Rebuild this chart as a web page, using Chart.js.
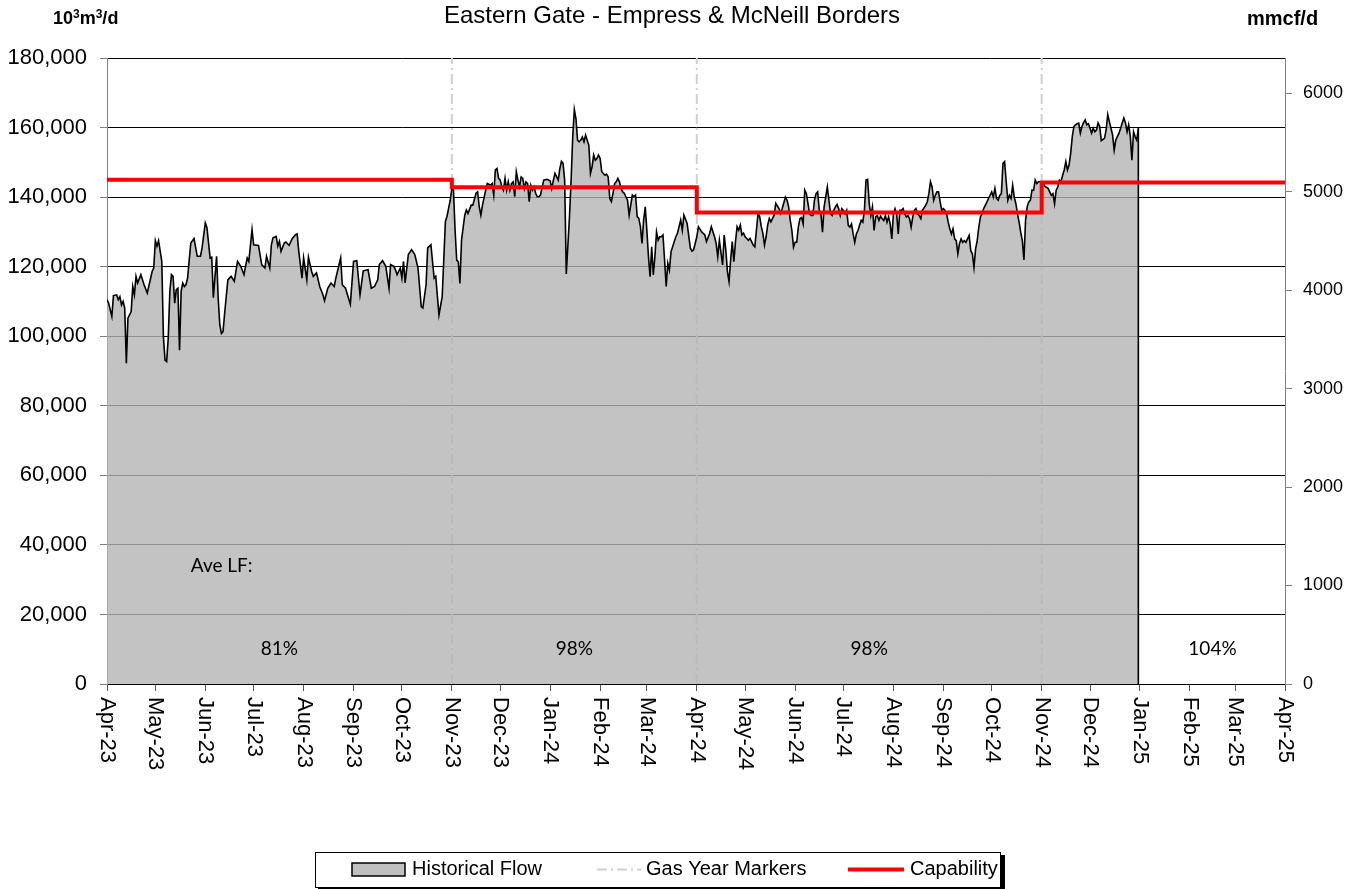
<!DOCTYPE html>
<html>
<head>
<meta charset="utf-8">
<title>Eastern Gate - Empress &amp; McNeill Borders</title>
<script src="https://cdn.jsdelivr.net/npm/chart.js@4.4.1/dist/chart.umd.min.js"></script>
<style>
    html, body { margin: 0; padding: 0; background: #fff; }
    #wrap { position: relative; width: 1361px; height: 889px; }
</style>
</head>
<body>
<div id="wrap"><canvas id="flowChart"></canvas></div>
<script>
const chartTitle = 'Eastern Gate - Empress & McNeill Borders';
const rightUnit = 'mmcf/d';

const monthLabels = ['Apr-23', 'May-23', 'Jun-23', 'Jul-23', 'Aug-23', 'Sep-23', 'Oct-23', 'Nov-23', 'Dec-23',
    'Jan-24', 'Feb-24', 'Mar-24', 'Apr-24', 'May-24', 'Jun-24', 'Jul-24', 'Aug-24', 'Sep-24', 'Oct-24',
    'Nov-24', 'Dec-24', 'Jan-25', 'Feb-25', 'Mar-25', 'Apr-25'];
const leftTicks = [0, 20000, 40000, 60000, 80000, 100000, 120000, 140000, 160000, 180000];
const rightTicks = [0, 1000, 2000, 3000, 4000, 5000, 6000];
const M3_PER_MMCF = 28.3168; // 10^3 m3 per mmcf

// daily flow, x = days since 1 Apr 2023, values in 10^3 m3/d
const flowDays = [
    0, 1, 3, 4, 6, 7, 8, 9, 10, 11, 12, 13, 15, 16, 17, 18, 19, 21, 23, 25,
    28, 29, 30, 31, 32, 34, 35, 36, 37, 38, 39, 40, 41, 42, 43, 44, 45, 46, 47, 48,
    49, 50, 52, 54, 56, 58, 59, 61, 62, 64, 65, 66, 68, 69, 70, 71, 72, 73, 75, 77,
    79, 81, 83, 85, 87, 88, 90, 91, 94, 96, 98, 99, 101, 102, 103, 105, 106, 107, 108, 110,
    111, 113, 115, 117, 118, 119, 121, 122, 124, 125, 127, 128, 130, 132, 134, 135, 137, 139, 141, 142,
    145, 146, 148, 151, 153, 155, 157, 159, 162, 164, 166, 168, 169, 171, 173, 175, 176, 178, 179, 180,
    182, 183, 184, 185, 187, 189, 191, 193, 195, 196, 198, 199, 201, 203, 204, 206, 208, 210, 211, 213,
    214, 215, 216, 217, 218, 219, 220, 222, 223, 224, 226, 227, 229, 230, 231, 232, 233, 235, 236, 238,
    239, 240, 241, 242, 243, 244, 245, 246, 247, 248, 249, 250, 251, 252, 253, 254, 255, 256, 257, 258,
    259, 260, 261, 262, 263, 264, 265, 266, 267, 268, 269, 271, 273, 275, 276, 277, 278, 280, 281, 282,
    283, 284, 285, 287, 288, 289, 290, 291, 292, 293, 294, 295, 296, 297, 299, 300, 301, 302, 303, 304,
    305, 306, 307, 308, 309, 310, 311, 312, 313, 314, 315, 316, 317, 318, 319, 320, 321, 322, 323, 324,
    326, 327, 328, 329, 330, 331, 332, 333, 334, 335, 336, 337, 338, 339, 340, 341, 342, 343, 344, 345,
    346, 347, 348, 349, 350, 351, 352, 353, 354, 355, 356, 357, 358, 360, 362, 363, 364, 366, 367, 369,
    371, 372, 374, 375, 377, 378, 379, 380, 382, 383, 384, 385, 386, 387, 388, 389, 390, 391, 392, 393,
    394, 395, 396, 397, 398, 399, 400, 401, 402, 403, 404, 405, 406, 407, 408, 409, 410, 411, 412, 413,
    414, 415, 417, 418, 419, 421, 422, 423, 424, 425, 426, 427, 428, 429, 430, 431, 432, 433, 434, 435,
    436, 437, 438, 439, 440, 441, 442, 443, 444, 445, 447, 448, 449, 450, 451, 452, 453, 454, 455, 456,
    457, 458, 459, 460, 461, 462, 463, 464, 465, 466, 467, 468, 469, 470, 471, 472, 473, 474, 475, 476,
    477, 478, 479, 480, 481, 482, 483, 484, 485, 486, 487, 488, 489, 490, 491, 492, 493, 494, 495, 496,
    497, 498, 499, 500, 501, 502, 503, 504, 505, 506, 508, 509, 510, 511, 512, 513, 514, 515, 516, 517,
    518, 519, 520, 521, 522, 523, 524, 525, 526, 527, 528, 529, 530, 531, 532, 533, 534, 535, 536, 537,
    538, 539, 540, 541, 542, 543, 544, 545, 546, 547, 549, 550, 551, 552, 553, 554, 555, 556, 557, 558,
    559, 560, 561, 562, 563, 564, 565, 566, 567, 568, 569, 570, 571, 572, 573, 574, 575, 576, 577, 578,
    579, 580, 581, 582, 584, 585, 586, 587, 588, 589, 590, 591, 592, 593, 594, 595, 596, 597, 598, 599,
    600, 601, 602, 603, 604, 605, 606, 607, 608, 609, 610, 611, 612, 613, 614, 615, 616, 617, 618, 619,
    620, 621, 622, 623, 624, 625, 626, 628, 629, 630, 631, 632, 633, 634, 635, 636, 637, 638, 639, 640
];
const flowValues = [
    110500, 109500, 105700, 111700, 111900, 110500, 111400, 109000, 110000, 108100, 92200, 105200, 107100, 114300, 111900, 117200, 115300, 117700, 114800, 112400,
    118600, 119600, 127500, 125900, 127500, 121500, 99900, 93100, 92700, 99400, 112900, 117700, 117200, 109500, 113400, 113800, 96000, 112900, 115300, 114300,
    114800, 116700, 126800, 128100, 123000, 123000, 125400, 132600, 131300, 122500, 122700, 111100, 123000, 110900, 103300, 100800, 101300, 106600, 116200, 117200,
    115800, 121500, 120100, 117700, 122500, 121500, 130700, 126300, 126100, 120600, 119600, 123000, 119600, 126300, 128300, 128700, 125900, 127300, 124400, 126800,
    127100, 126100, 128100, 129200, 129400, 124400, 116700, 122500, 116200, 122700, 118600, 117200, 118200, 114300, 111900, 110200, 113800, 115300, 114300, 116700,
    122500, 114800, 113800, 109200, 121500, 121700, 111900, 118800, 119100, 113800, 114300, 116200, 120600, 121700, 120100, 113800, 120600, 120100, 119100, 117700,
    119600, 116700, 121500, 115300, 123500, 124900, 123500, 119600, 108500, 108100, 114800, 125400, 126300, 116700, 117200, 106100, 111400, 133000, 134500, 139100,
    142500, 142000, 130500, 121900, 121400, 115200, 127600, 134800, 136300, 135300, 137700, 137700, 141100, 141500, 137200, 134800, 137700, 142000, 143900, 143400,
    143900, 140600, 147800, 148200, 145400, 144900, 143000, 142000, 145400, 142000, 144400, 142000, 143900, 144400, 140100, 147300, 144900, 143000, 145800, 145400,
    142500, 144400, 143900, 138700, 143400, 142000, 143000, 141100, 140100, 140100, 140600, 144900, 145100, 144700, 142500, 144900, 146800, 144900, 148200, 150300,
    149700, 144900, 117900, 134400, 144900, 157300, 165200, 162600, 156400, 155900, 156400, 157300, 155900, 157800, 154900, 146800, 148700, 152100, 150600, 151100,
    152100, 151100, 147300, 146800, 146300, 146600, 145800, 139600, 138700, 141100, 143900, 144400, 145400, 144400, 142500, 141500, 141100, 140100, 139100, 134800,
    140600, 140100, 140600, 134400, 133900, 131500, 126700, 133400, 137200, 130500, 122900, 117100, 125700, 117600, 122900, 130000, 127600, 128600, 128600, 129100,
    121900, 114300, 121000, 119000, 124300, 125700, 127200, 128600, 129600, 131500, 133400, 130500, 134800, 132400, 125300, 124500, 124800, 128600, 131500, 130000,
    129100, 127200, 129600, 131500, 128600, 126700, 122900, 127600, 120500, 129100, 124800, 118600, 115700, 121900, 127200, 121400, 127200, 131500, 130500, 132000,
    129100, 129600, 128600, 128100, 127600, 128100, 127200, 126200, 125700, 130500, 135300, 134400, 131500, 129600, 126200, 128600, 132000, 133900, 132900, 133900,
    134800, 138200, 136700, 135300, 136700, 140000, 139100, 137200, 133300, 130400, 125600, 127000, 127000, 131400, 133800, 134100, 132300, 142000, 141000, 138100,
    135200, 134700, 134700, 139100, 141000, 141500, 136200, 135200, 129900, 137200, 142900, 139100, 135200, 134700, 136200, 137200, 137900, 136700, 134700, 136700,
    136200, 135200, 136200, 131900, 131400, 132300, 129400, 127000, 129400, 130400, 131900, 133300, 132800, 136200, 144900, 145100, 138100, 134700, 137200, 130400,
    134300, 134700, 133300, 134500, 133800, 133300, 134700, 132800, 134300, 132300, 128000, 135200, 136700, 135200, 129400, 136200, 136200, 136700, 135200, 134300,
    134700, 133800, 131400, 134300, 136200, 136700, 135200, 134700, 133800, 136200, 137600, 138600, 141000, 144400, 142900, 139100, 140500, 141500, 141500, 138600,
    136200, 136700, 136200, 135200, 132800, 130900, 129400, 130900, 128000, 127500, 123700, 126600, 128000, 127000, 127500, 127000, 128000, 129000, 124600, 123700,
    119800, 125100, 127500, 131400, 134300, 135200, 136700, 137600, 138600, 139600, 141500, 140000, 142500, 139600, 139100, 140500, 141000, 149700, 150200, 144400,
    139100, 140500, 139600, 143400, 140000, 138100, 135200, 132800, 129900, 127500, 121900, 133300, 137200, 138600, 139100, 142000, 142000, 144900, 143900, 144400,
    144400, 144400, 143900, 143100, 142500, 141500, 140500, 141000, 138100, 142000, 142900, 144900, 144400, 146300, 147800, 150200, 147800, 149200, 152600, 157400,
    160300, 160800, 161100, 161300, 158400, 160300, 161400, 162200, 160800, 161100, 159800, 158400, 159800, 158800, 159300, 161300, 160300, 156200, 156600, 156900,
    159300, 163700, 161700, 159800, 157900, 153500, 156400, 158400, 159800, 161300, 162700, 161300, 158800, 160800, 157400, 150600, 158800, 157400, 156400, 159800
];

const capabilityDates = ['2023-04-01', '2023-11-01', '2024-04-01', '2024-11-01', '2025-04-01'];
const capabilityValues = [145000, 142800, 135600, 144200, 144200];

const gasYearDates = ['2023-11-01', '2024-04-01', '2024-11-01'];

const lfLabels = ['81%', '98%', '98%', '104%'];
const lfFrom = ['2023-04-01', '2023-11-01', '2024-04-01', '2025-01-01'];
const lfTo = ['2023-11-01', '2024-04-01', '2024-11-01', '2025-04-01'];

const START = Date.UTC(2023, 3, 1);
const MONTHS = ['Jan', 'Feb', 'Mar', 'Apr', 'May', 'Jun', 'Jul', 'Aug', 'Sep', 'Oct', 'Nov', 'Dec'];
const dayOfDate = iso => Math.round((Date.parse(iso) - START) / 86400000);
const dayOfMonthLabel = lbl => {
    const [m, y] = lbl.split('-');
    return Math.round((Date.UTC(2000 + Number(y), MONTHS.indexOf(m), 1) - START) / 86400000);
};

const monthDays = monthLabels.map(dayOfMonthLabel);
const axisEnd = monthDays[monthDays.length - 1];
const leftMax = leftTicks[leftTicks.length - 1];

const flowPoints = flowDays.map((d, i) => ({ x: d, y: flowValues[i] }));
const lastDay = flowDays[flowDays.length - 1];
const endDrop = [{ x: lastDay, y: flowValues[flowValues.length - 1] }, { x: lastDay, y: 0 }];
const capPoints = capabilityDates.map((d, i) => ({ x: dayOfDate(d), y: capabilityValues[i] }));
const markerPoints = [];
gasYearDates.forEach(d => {
    const x = dayOfDate(d);
    markerPoints.push({ x, y: 0 }, { x, y: leftMax }, { x, y: null });
});

const FONT = '"Liberation Sans", Arial, sans-serif';
Chart.defaults.font.family = FONT;

// draws text runs, small raised pieces for the superscripts
function drawUnit(ctx, parts, x, y) {
    parts.forEach(([txt, sup]) => {
        ctx.font = (sup ? 'bold 12px ' : 'bold 18px ') + FONT;
        ctx.fillText(txt, x, sup ? y - 6 : y);
        x += ctx.measureText(txt).width;
    });
}

const drawExtras = {
    id: 'drawExtras',
    afterDraw(chart) {
        const { ctx, chartArea, scales } = chart;
        const x = scales.x, y = scales.y;
        ctx.save();
        ctx.fillStyle = '#000';

        // title and units
        ctx.textBaseline = 'alphabetic';
        ctx.textAlign = 'center';
        ctx.font = '24px ' + FONT;
        ctx.fillText(chartTitle, 672, 23);
        ctx.textAlign = 'left';
        drawUnit(ctx, [['10', false], ['3', true], ['m', false], ['3', true], ['/d', false]], 53, 24);
        ctx.font = 'bold 20px ' + FONT;
        ctx.fillText(rightUnit, 1247, 25);

        // month labels, read top to bottom
        ctx.font = '22px ' + FONT;
        ctx.textBaseline = 'middle';
        x.ticks.forEach((t, i) => {
            ctx.save();
            ctx.translate(x.getPixelForValue(t.value), chartArea.bottom + 13);
            ctx.rotate(Math.PI / 2);
            ctx.fillText(monthLabels[i], 0, 0);
            ctx.restore();
        });

        // load factor notes
        ctx.font = '19px Lato, "Noto Sans", sans-serif';
        ctx.textAlign = 'left';
        ctx.fillText('Ave LF:', x.getPixelForValue(dayOfDate('2023-05-23')), y.getPixelForValue(34000));
        ctx.textAlign = 'center';
        lfLabels.forEach((lbl, i) => {
            const mid = (dayOfDate(lfFrom[i]) + dayOfDate(lfTo[i])) / 2;
            ctx.fillText(lbl, x.getPixelForValue(mid), y.getPixelForValue(10000));
        });

        // legend box
        const ds = chart.data.datasets;
        ctx.fillStyle = '#000';
        ctx.fillRect(1001, 855, 4, 34);
        ctx.fillRect(318, 888, 687, 4);
        ctx.fillStyle = '#fff';
        ctx.fillRect(315, 852, 686, 36);
        ctx.strokeStyle = '#000';
        ctx.lineWidth = 1;
        ctx.strokeRect(315.5, 852.5, 685, 35);

        const ly = 869.5;
        ctx.fillStyle = '#c0c0c0';
        ctx.fillRect(352, 863, 53, 13);
        ctx.lineWidth = 1.5;
        ctx.strokeRect(352, 863, 53, 13);

        ctx.strokeStyle = ds[2].borderColor;
        ctx.lineWidth = 2;
        ctx.setLineDash(ds[2].borderDash);
        ctx.beginPath(); ctx.moveTo(597, ly); ctx.lineTo(641, ly); ctx.stroke();
        ctx.setLineDash([]);

        ctx.strokeStyle = ds[3].borderColor;
        ctx.lineWidth = 4;
        ctx.beginPath(); ctx.moveTo(848, ly); ctx.lineTo(904, ly); ctx.stroke();

        ctx.fillStyle = '#000';
        ctx.font = '20px ' + FONT;
        ctx.textAlign = 'left';
        ctx.textBaseline = 'middle';
        ctx.fillText(ds[0].label, 412, ly);
        ctx.fillText(ds[2].label, 646, ly);
        ctx.fillText(ds[3].label, 910, ly);
        ctx.restore();
    }
};

new Chart(document.getElementById('flowChart'), {
    type: 'line',
    data: {
        datasets: [
            { label: 'Historical Flow', data: flowPoints, borderColor: '#000', borderWidth: 1.6,
              backgroundColor: 'rgba(180,180,180,0.8)', fill: 'origin', pointRadius: 0, tension: 0, order: 2 },
            { label: 'end', data: endDrop, borderColor: '#000', borderWidth: 1.6, pointRadius: 0, fill: false, order: 1 },
            { label: 'Gas Year Markers', data: markerPoints, borderColor: '#d0d0d0', borderWidth: 2,
              borderDash: [10, 4, 2, 4], pointRadius: 0, spanGaps: false, fill: false, order: 3 },
            { label: 'Capability', data: capPoints, borderColor: '#ff0000', borderWidth: 4,
              stepped: 'before', pointRadius: 0, fill: false, order: 0 }
        ]
    },
    options: {
        responsive: true,
        maintainAspectRatio: false,
        animation: false,
        layout: { padding: { top: 58, left: 0, right: 0, bottom: 0 } },
        plugins: { legend: { display: false }, tooltip: { enabled: false } },
        scales: {
            x: {
                type: 'linear', min: 0, max: axisEnd,
                afterBuildTicks: s => { s.ticks = monthDays.map(v => ({ value: v })); },
                afterFit: s => { s.height = 205; },
                ticks: { display: false },
                grid: { drawOnChartArea: false, tickLength: 7, color: '#555' },
                border: { color: '#000', width: 1 }
            },
            y: {
                position: 'left', min: 0, max: leftMax,
                afterBuildTicks: s => { s.ticks = leftTicks.map(v => ({ value: v })); },
                afterFit: s => { s.width = 107; },
                ticks: { color: '#000', padding: 13, font: { size: 22 }, callback: v => v.toLocaleString('en-US') },
                grid: { color: '#000', tickColor: '#808080', tickLength: 7 },
                border: { color: '#808080' }
            },
            y2: {
                position: 'right', min: 0, max: leftMax / M3_PER_MMCF,
                afterBuildTicks: s => { s.ticks = rightTicks.map(v => ({ value: v })); },
                afterFit: s => { s.width = 76; },
                ticks: { color: '#000', padding: 11, font: { size: 18 }, callback: v => String(v) },
                grid: { drawOnChartArea: false, tickColor: '#808080', tickLength: 7 },
                border: { color: '#808080' }
            }
        }
    },
    plugins: [drawExtras]
});
</script>
</body>
</html>
